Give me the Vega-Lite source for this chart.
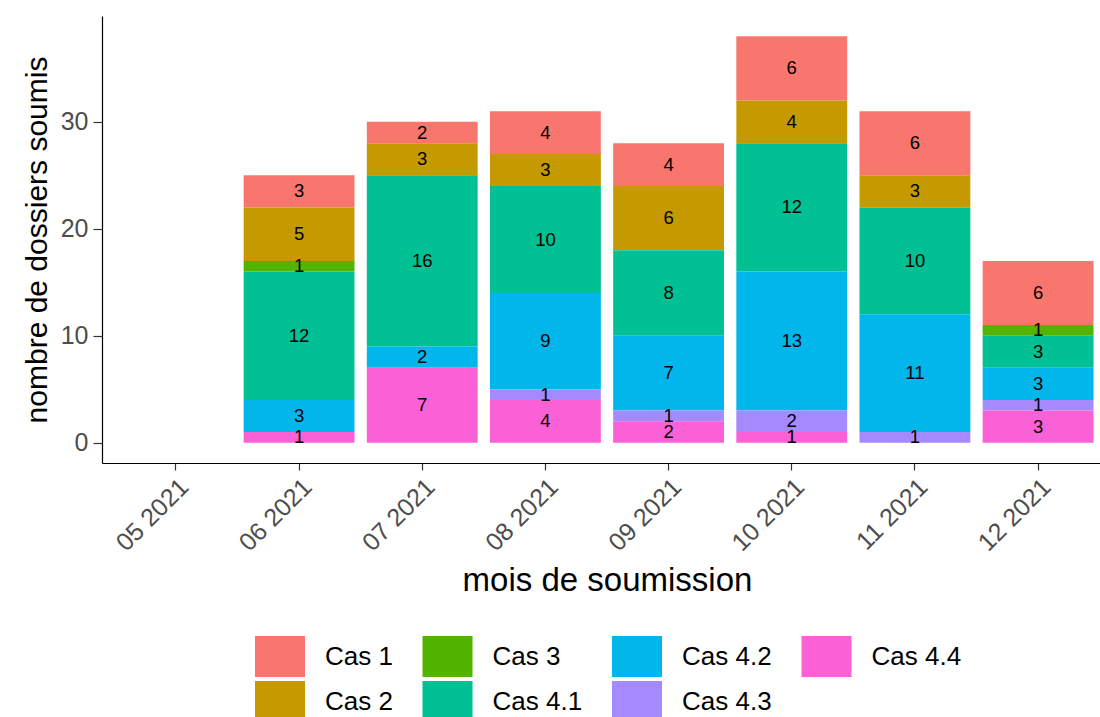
{
  "$schema": "https://vega.github.io/schema/vega-lite/v6.json",
  "width": 998,
  "height": 447,
  "autosize": "none",
  "padding": {"left": 102, "top": 16, "right": 0, "bottom": 254},
  "background": "white",
  "config": {
    "font": "Liberation Sans",
    "view": {"stroke": null},
    "axis": {"grid": false}
  },
  "data": {
    "values": [
      {"mois": "06 2021", "cas": "Cas 1", "n": 3},
      {"mois": "06 2021", "cas": "Cas 2", "n": 5},
      {"mois": "06 2021", "cas": "Cas 3", "n": 1},
      {"mois": "06 2021", "cas": "Cas 4.1", "n": 12},
      {"mois": "06 2021", "cas": "Cas 4.2", "n": 3},
      {"mois": "06 2021", "cas": "Cas 4.4", "n": 1},
      {"mois": "07 2021", "cas": "Cas 1", "n": 2},
      {"mois": "07 2021", "cas": "Cas 2", "n": 3},
      {"mois": "07 2021", "cas": "Cas 4.1", "n": 16},
      {"mois": "07 2021", "cas": "Cas 4.2", "n": 2},
      {"mois": "07 2021", "cas": "Cas 4.4", "n": 7},
      {"mois": "08 2021", "cas": "Cas 1", "n": 4},
      {"mois": "08 2021", "cas": "Cas 2", "n": 3},
      {"mois": "08 2021", "cas": "Cas 4.1", "n": 10},
      {"mois": "08 2021", "cas": "Cas 4.2", "n": 9},
      {"mois": "08 2021", "cas": "Cas 4.3", "n": 1},
      {"mois": "08 2021", "cas": "Cas 4.4", "n": 4},
      {"mois": "09 2021", "cas": "Cas 1", "n": 4},
      {"mois": "09 2021", "cas": "Cas 2", "n": 6},
      {"mois": "09 2021", "cas": "Cas 4.1", "n": 8},
      {"mois": "09 2021", "cas": "Cas 4.2", "n": 7},
      {"mois": "09 2021", "cas": "Cas 4.3", "n": 1},
      {"mois": "09 2021", "cas": "Cas 4.4", "n": 2},
      {"mois": "10 2021", "cas": "Cas 1", "n": 6},
      {"mois": "10 2021", "cas": "Cas 2", "n": 4},
      {"mois": "10 2021", "cas": "Cas 4.1", "n": 12},
      {"mois": "10 2021", "cas": "Cas 4.2", "n": 13},
      {"mois": "10 2021", "cas": "Cas 4.3", "n": 2},
      {"mois": "10 2021", "cas": "Cas 4.4", "n": 1},
      {"mois": "11 2021", "cas": "Cas 1", "n": 6},
      {"mois": "11 2021", "cas": "Cas 2", "n": 3},
      {"mois": "11 2021", "cas": "Cas 4.1", "n": 10},
      {"mois": "11 2021", "cas": "Cas 4.2", "n": 11},
      {"mois": "11 2021", "cas": "Cas 4.3", "n": 1},
      {"mois": "12 2021", "cas": "Cas 1", "n": 6},
      {"mois": "12 2021", "cas": "Cas 3", "n": 1},
      {"mois": "12 2021", "cas": "Cas 4.1", "n": 3},
      {"mois": "12 2021", "cas": "Cas 4.2", "n": 3},
      {"mois": "12 2021", "cas": "Cas 4.3", "n": 1},
      {"mois": "12 2021", "cas": "Cas 4.4", "n": 3}
    ]
  },
  "transform": [
    {"stack": "n", "groupby": ["mois"], "sort": [{"field": "cas", "order": "descending"}], "as": ["y0", "y1"]},
    {"calculate": "(datum.y0 + datum.y1) / 2", "as": "ymid"}
  ],
  "encoding": {
    "x": {
      "field": "mois",
      "type": "nominal",
      "scale": {
        "domain": ["05 2021", "06 2021", "07 2021", "08 2021", "09 2021", "10 2021", "11 2021", "12 2021"],
        "range": [0, 1010],
        "paddingInner": 0.1,
        "paddingOuter": 0.15
      },
      "axis": {
        "title": "mois de soumission",
        "labelAngle": -45,
        "labelAlign": "right",
        "labelBaseline": "top",
        "labelFontSize": 25,
        "labelColor": "#4D4D4D",
        "labelPadding": 4,
        "tickSize": 7,
        "tickColor": "#333333",
        "tickWidth": 1.2,
        "domainColor": "black",
        "domainWidth": 1.2,
        "titleFontSize": 33,
        "titleFontWeight": "normal",
        "titleColor": "black",
        "titlePadding": 9
      }
    }
  },
  "layer": [
    {
      "mark": {"type": "bar"},
      "encoding": {
        "y": {
          "field": "y0",
          "type": "quantitative",
          "scale": {"domain": [-1.9, 39.9], "nice": false, "zero": false},
          "axis": {
            "title": "nombre de dossiers soumis",
            "values": [0, 10, 20, 30],
            "labelFontSize": 25,
            "labelColor": "#4D4D4D",
            "labelPadding": 5,
            "tickSize": 9,
            "tickColor": "#333333",
            "tickWidth": 1.2,
            "domainColor": "black",
            "domainWidth": 1.2,
            "titleFontSize": 30,
            "titleFontWeight": "normal",
            "titleColor": "black",
            "titlePadding": 8
          }
        },
        "y2": {"field": "y1"},
        "color": {
          "field": "cas",
          "type": "nominal",
          "scale": {
            "domain": ["Cas 1", "Cas 3", "Cas 4.2", "Cas 4.4", "Cas 2", "Cas 4.1", "Cas 4.3"],
            "range": ["#F8766D", "#53B400", "#00B6EB", "#FB61D7", "#C49A00", "#00C094", "#A58AFF"]
          },
          "legend": {
            "orient": "none",
            "legendX": 157.5,
            "legendY": 620,
            "columns": 4,
            "direction": "horizontal",
            "title": null,
            "symbolType": "M-1.22,-1H1.22V1H-1.22Z",
            "symbolSize": 1681,
            "symbolStrokeWidth": 0,
            "labelFontSize": 26,
            "labelColor": "black",
            "labelOffset": 24.5,
            "labelLimit": 0,
            "columnPadding": 28.5,
            "rowPadding": 4,
            "padding": 0
          }
        }
      }
    },
    {
      "mark": {"type": "text", "fontSize": 18.5, "color": "black"},
      "encoding": {
        "y": {"field": "ymid", "type": "quantitative", "axis": {"title": "nombre de dossiers soumis"}},
        "text": {"field": "n", "type": "quantitative"}
      }
    }
  ]
}
